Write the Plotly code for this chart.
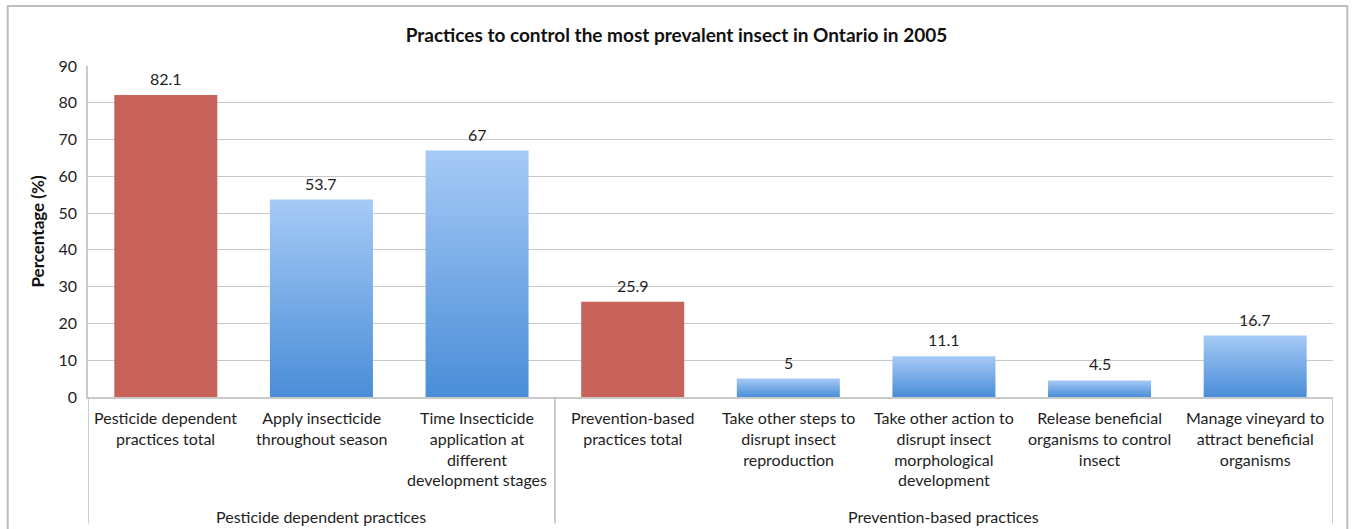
import plotly.graph_objects as go

# Survey results: share of growers (%) using each practice
categories = [
    "Pesticide dependent<br>practices total",
    "Apply insecticide<br>throughout season",
    "Time Insecticide<br>application at<br>different<br>development stages",
    "Prevention-based<br>practices total",
    "Take other steps to<br>disrupt insect<br>reproduction",
    "Take other action to<br>disrupt insect<br>morphological<br>development",
    "Release beneficial<br>organisms to control<br>insect",
    "Manage vineyard to<br>attract beneficial<br>organisms",
]
values = [82.1, 53.7, 67, 25.9, 5, 11.1, 4.5, 16.7]
is_total = [True, False, False, True, False, False, False, False]
value_labels = ["82.1", "53.7", "67", "25.9", "5", "11.1", "4.5", "16.7"]

groups = ["Pesticide dependent practices", "Prevention-based practices"]
group_sizes = [3, 5]

y_ticks = [0, 10, 20, 30, 40, 50, 60, 70, 80, 90]

FONT = "Lato, 'Open Sans', sans-serif"
RED = "#C8635A"
BLUE_TOP = "#A6CAF6"
BLUE_BOTTOM = "#4A8DD8"
GRID = "#C9C9C9"
FRAME = "#BDBDBD"
TEXT = "#1e1e1e"
HALF_W = 0.331

fig = go.Figure()

# Bars drawn as filled rectangles so the blue ones can carry a vertical gradient
for i, (v, tot) in enumerate(zip(values, is_total)):
    xs = [i - HALF_W, i + HALF_W, i + HALF_W, i - HALF_W, i - HALF_W]
    ys = [0, 0, v, v, 0]
    if tot:
        fig.add_trace(go.Scatter(
            x=xs, y=ys, mode="lines", fill="toself", fillcolor=RED,
            line=dict(width=0), hoverinfo="skip", showlegend=False))
    else:
        fig.add_trace(go.Scatter(
            x=xs, y=ys, mode="lines", fill="toself",
            fillgradient=dict(type="vertical",
                              colorscale=[[0, BLUE_BOTTOM], [1, BLUE_TOP]]),
            line=dict(width=0), hoverinfo="skip", showlegend=False))

# Value labels above each bar
for i, (v, lab) in enumerate(zip(values, value_labels)):
    fig.add_annotation(x=i, y=v, text=lab, showarrow=False, yanchor="bottom",
                       yshift=5, font=dict(family=FONT, size=16, color=TEXT))

# Category labels under the axis
for i, cat in enumerate(categories):
    fig.add_annotation(x=i, y=-0.028, yref="paper", text=cat, showarrow=False,
                       yanchor="top", align="center",
                       font=dict(family=FONT, size=16, color=TEXT))

# Group labels and separators
shapes = []
start = 0
bounds = [-0.5]
for g, n in zip(groups, group_sizes):
    mid = start + (n - 1) / 2
    fig.add_annotation(x=mid, y=-0.36, yref="paper", text=g, showarrow=False,
                       yanchor="middle", font=dict(family=FONT, size=16, color=TEXT))
    start += n
    bounds.append(start - 0.5)
for b in bounds:
    shapes.append(dict(type="line", xref="x", yref="paper", x0=b, x1=b,
                       y0=0, y1=-0.382, line=dict(color=FRAME, width=1.5)))

# Outer chart frame
shapes.append(dict(type="rect", xref="paper", yref="paper",
                   x0=-0.0645, x1=1.0115, y0=1.181, y1=-0.45,
                   line=dict(color=FRAME, width=2), fillcolor="rgba(0,0,0,0)"))

fig.update_layout(
    width=1353, height=529,
    margin=dict(l=88, r=20, t=66, b=132),
    plot_bgcolor="white", paper_bgcolor="white",
    font=dict(family=FONT, size=16, color=TEXT),
    title=dict(text="<b>Practices to control the most prevalent insect in Ontario in 2005</b>",
               x=0.5, xref="container", xanchor="center",
               y=1 - 35 / 529, yref="container", yanchor="middle",
               font=dict(family=FONT, size=19, color="#111")),
    shapes=shapes,
    showlegend=False,
)
fig.update_xaxes(range=[-0.5, 7.5], showgrid=False, zeroline=False,
                 showticklabels=False, ticks="", showline=True,
                 linecolor=GRID, linewidth=1.5, fixedrange=True)
fig.update_yaxes(range=[0, 90], tickvals=y_ticks, showgrid=True, gridcolor=GRID,
                 gridwidth=1.2, zeroline=False, showline=True, linecolor=GRID,
                 linewidth=1.5, ticks="outside", ticklen=6, tickcolor="rgba(0,0,0,0)",
                 tickfont=dict(family=FONT, size=16, color=TEXT),
                 title=dict(text="<b>Percentage (%)</b>", standoff=10,
                            font=dict(family=FONT, size=17, color="#111")),
                 fixedrange=True)

fig.write_html("out.html")
